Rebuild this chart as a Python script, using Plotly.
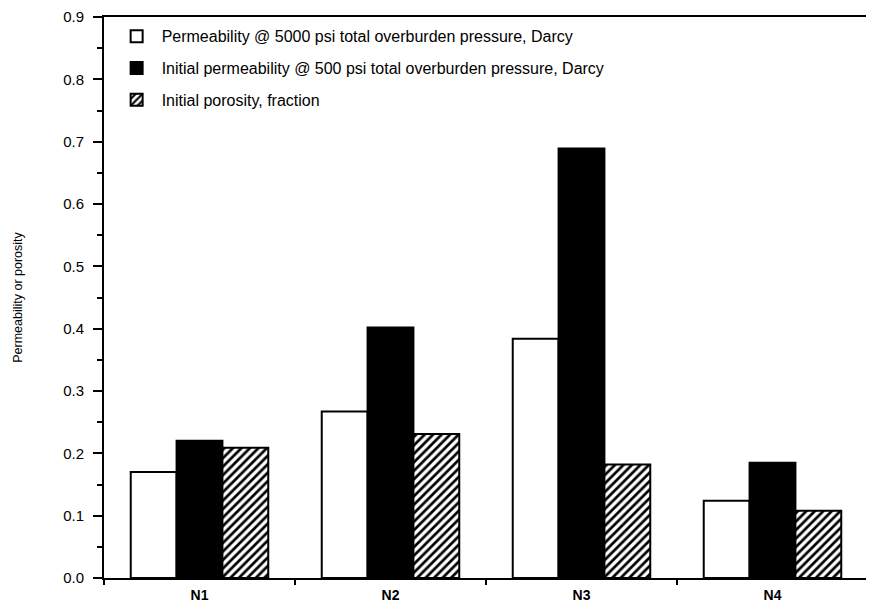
import plotly.graph_objects as go

categories = ["N1", "N2", "N3", "N4"]
perm_5000 = [0.170, 0.267, 0.384, 0.124]
perm_500 = [0.220, 0.402, 0.689, 0.185]
porosity = [0.209, 0.231, 0.182, 0.108]

names = [
    "Permeability @ 5000 psi total overburden pressure, Darcy",
    "Initial permeability @ 500 psi total overburden pressure, Darcy",
    "Initial porosity, fraction",
]

font_family = "Liberation Sans, Arial, sans-serif"

fig = go.Figure()
fig.add_trace(go.Bar(
    x=categories, y=perm_5000, name=names[0], legendgroup="a",
    marker=dict(color="white", line=dict(color="black", width=2)),
))
fig.add_trace(go.Bar(
    x=categories, y=perm_500, name=names[1], legendgroup="b",
    marker=dict(color="black", line=dict(color="black", width=2)),
))
fig.add_trace(go.Bar(
    x=categories, y=porosity, name=names[2], legendgroup="c",
    marker=dict(color="white", line=dict(color="black", width=2),
                pattern=dict(shape="/", fgcolor="black", bgcolor="white",
                             size=6, solidity=0.45, fillmode="replace")),
))

# page body has an 8px default margin, so the figure is sized to fit inside the window
fig.update_layout(
    width=866, height=602,
    margin=dict(l=96, r=6, t=9, b=32, autoexpand=False),
    paper_bgcolor="white", plot_bgcolor="white",
    font=dict(family=font_family, size=14, color="black"),
    barmode="group", bargap=0.28, bargroupgap=0,
    showlegend=True,
    legend=dict(x=0.01, y=0.996, xanchor="left", yanchor="top",
                bgcolor="rgba(0,0,0,0)", borderwidth=0, itemwidth=40,
                font=dict(size=16), tracegroupgap=8, traceorder="grouped"),
)
fig.update_xaxes(
    type="category", showline=True, linecolor="black", linewidth=2, mirror=True,
    ticks="outside", ticklen=5, tickwidth=2, tickcolor="black", tickson="boundaries",
    tickfont=dict(size=14, family=font_family, weight="bold"),
    showgrid=False, zeroline=False, automargin=False, ticklabelstandoff=3,
)
fig.update_yaxes(
    range=[0, 0.9], dtick=0.1, tick0=0, tickformat=".1f",
    showline=True, linecolor="black", linewidth=2, mirror=True,
    ticks="outside", ticklen=9, tickwidth=2, tickcolor="black",
    minor=dict(dtick=0.05, ticks="outside", ticklen=5, tickwidth=2, tickcolor="black", showgrid=False),
    showgrid=False, zeroline=False, ticklabelstandoff=6, automargin=False,
    ticklabeloverflow="allow",
    tickfont=dict(size=15),
    title=dict(text="Permeability or porosity", font=dict(size=12.5), standoff=38),
)

fig.write_html("out.html")
